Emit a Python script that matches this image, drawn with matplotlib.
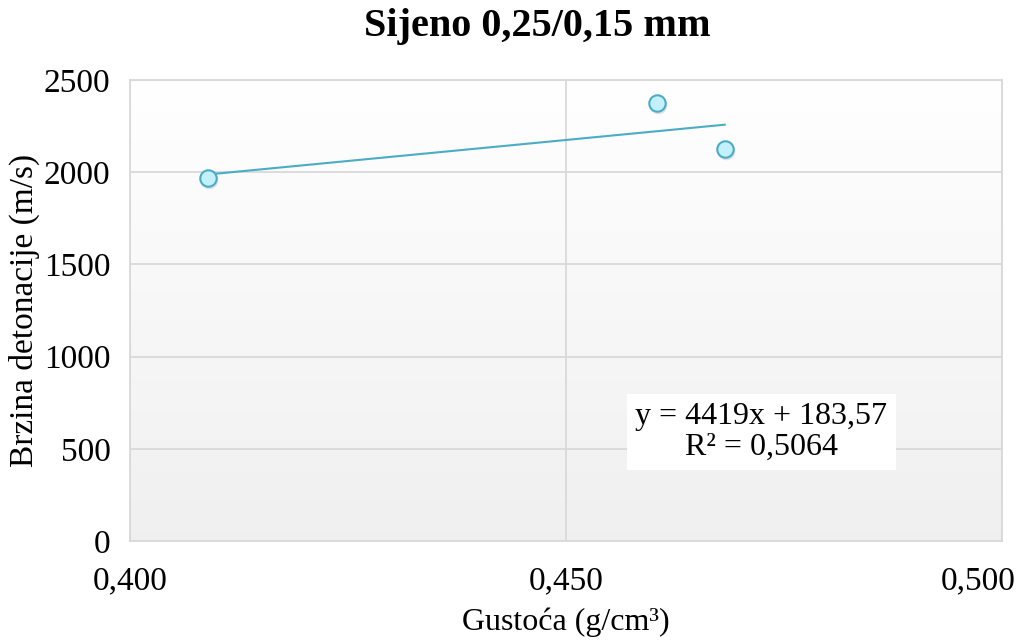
import matplotlib

matplotlib.use("Agg")
import matplotlib.pyplot as plt
import matplotlib.transforms as mtransforms
import numpy as np

# data
gustoca = [0.4089, 0.4604, 0.4682]
brzina = [1968, 2375, 2126]
eq_text = "y = 4419x + 183,57\nR² = 0,5064"
x_ticks = [0.400, 0.450, 0.500]
x_labels = ["0,400", "0,450", "0,500"]
y_ticks = [0, 500, 1000, 1500, 2000, 2500]

plt.rcParams["font.family"] = ["Liberation Serif", "DejaVu Serif"]

fig = plt.figure(figsize=(10.29, 6.41), dpi=100)
ax = fig.add_axes([0.1263, 0.156, 0.8475, 0.719])

# gradient background, white at top to light gray at bottom
grad = np.linspace(1.0, 0.94, 256).reshape(-1, 1)
ax.imshow(np.dstack([grad, grad, grad]), extent=[0, 1, 0, 1], transform=ax.transAxes,
          aspect="auto", zorder=0, origin="upper")

ax.set_xlim(0.400, 0.500)
ax.set_ylim(0, 2500)
ax.set_xticks(x_ticks)
ax.set_xticklabels(x_labels)
ax.set_yticks(y_ticks)
ax.grid(True, color="#d9d9d9", lw=1.3, zorder=1)
for sp in ax.spines.values():
    sp.set_color("#d9d9d9")
    sp.set_linewidth(1.3)
ax.tick_params(axis="y", length=0, labelsize=24, pad=14)
ax.tick_params(axis="x", length=0, labelsize=24, pad=18)
# Excel pulls the last x label inside the chart area
last = ax.get_xticklabels()[-1]
last.set_transform(last.get_transform() + mtransforms.ScaledTranslation(-0.24, 0, fig.dpi_scale_trans))

# trendline (least squares over the points)
k, n = np.polyfit(gustoca, brzina, 1)
xs = np.array([min(gustoca), max(gustoca)])
ax.plot(xs, k * xs + n, color="#4bacc6", lw=1.5, zorder=3)

# points with a soft shadow
ax.scatter(np.array(gustoca) + 0.0002, np.array(brzina) - 12, s=160, color="#777777",
           alpha=0.2, lw=0, zorder=3)
ax.scatter(gustoca, brzina, s=140, facecolor="#c4f0fb", edgecolor="#4bacc6", lw=1.5, zorder=4)

ax.text(0.4724, 592, eq_text, ha="center", va="center", fontsize=23, linespacing=1.05,
        bbox=dict(facecolor="white", edgecolor="none", pad=6), zorder=5)

fig.text(0.522, 0.958, "Sijeno 0,25/0,15 mm", ha="center", va="center",
         fontsize=29, fontweight="bold")
ax.set_xlabel("Gustoća (g/cm³)", fontsize=23, labelpad=8)
ax.set_ylabel("Brzina detonacije (m/s)", fontsize=24)
ax.yaxis.label.set_va("center")
ax.yaxis.set_label_coords(-0.121, 0.5)

fig.savefig("out.png", dpi=100)
